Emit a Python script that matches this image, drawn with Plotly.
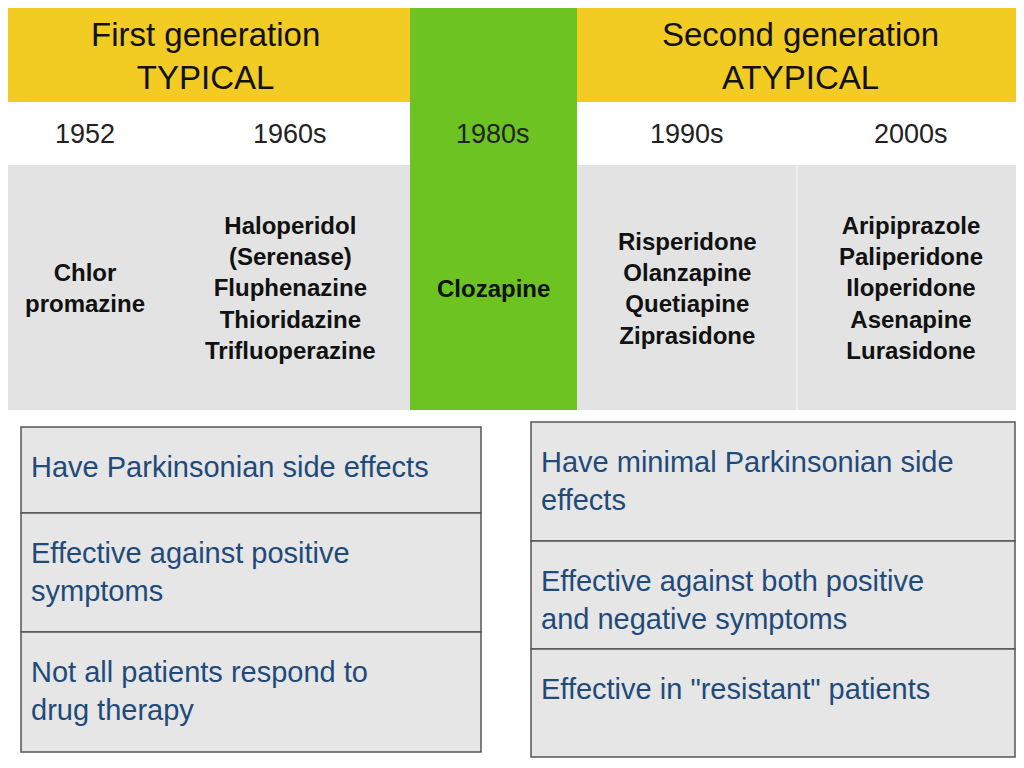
import plotly.graph_objects as go

generations = ["First generation<br>TYPICAL", "Second generation<br>ATYPICAL"]
years = ["1952", "1960s", "1980s", "1990s", "2000s"]
drugs = [
    "Chlor<br>promazine",
    "Haloperidol<br>(Serenase)<br>Fluphenazine<br>Thioridazine<br>Trifluoperazine",
    "Clozapine",
    "Risperidone<br>Olanzapine<br>Quetiapine<br>Ziprasidone",
    "Aripiprazole<br>Paliperidone<br>Iloperidone<br>Asenapine<br>Lurasidone",
]
typical_props = ["Have Parkinsonian side effects",
                 "Effective against positive<br>symptoms",
                 "Not all patients respond to<br>drug therapy"]
atypical_props = ["Have minimal Parkinsonian side<br>effects",
                  "Effective against both positive<br>and negative symptoms",
                  "Effective in \"resistant\" patients"]

YEL, GRN, GRY = "#F2CB23", "#6CC322", "#E3E3E3"
col_x = [85, 290, 493, 687, 911]
shapes, ann = [], []
def rect(x0, y0, x1, y1, fill, line=None, w=0):
    shapes.append(dict(type="rect", x0=x0, y0=y0, x1=x1, y1=y1, fillcolor=fill,
                       line=dict(color=line or fill, width=w), layer="below"))
rect(0, 5, 410, 102, YEL); rect(577, 5, 1030, 102, YEL)
rect(0, 165, 1030, 410, GRY)
rect(410, 5, 577, 410, GRN)
shapes.append(dict(type="line", x0=797, x1=797, y0=165, y1=410, line=dict(color="#EDEDED", width=2)))
font = "Liberation Sans, Arial"
for txt, x in zip(generations, [205, 800]):
    ann.append(dict(x=x, y=56, text=txt, font=dict(size=33, color="#111", family=font)))
for txt, x in zip(years, col_x):
    ann.append(dict(x=x, y=134, text=txt, font=dict(size=27, color="#222", family=font)))
for txt, x in zip(drugs, col_x):
    ann.append(dict(x=x, y=288, text="<b>"+txt+"</b>", font=dict(size=24, color="#111", family=font)))

def table(x0, x1, ys, props):
    for i, p in enumerate(props):
        rect(x0, ys[i], x1, ys[i+1], "#E6E6E6", "#555", 1.5)
        ann.append(dict(x=x0+8, y=ys[i]+22, text=p, xanchor="left", yanchor="top", align="left",
                        font=dict(size=29, color="#1F4A7A", family=font)))
table(21, 481, [427, 513, 632, 752], typical_props)
table(531, 1015, [422, 541, 649, 757], atypical_props)
for a in ann:
    a.update(xref="x", yref="y", showarrow=False)

fig = go.Figure()
fig.update_layout(width=1008, height=752, margin=dict(l=0, r=0, t=0, b=0),
                  paper_bgcolor="white", plot_bgcolor="white", shapes=shapes, annotations=ann,
                  xaxis=dict(range=[8, 1016], visible=False),
                  yaxis=dict(range=[760, 8], visible=False), showlegend=False)
fig.write_html("out.html")
